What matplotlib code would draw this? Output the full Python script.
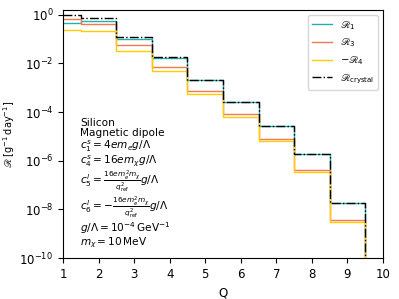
import numpy as np
import matplotlib.pyplot as plt
from matplotlib.ticker import NullLocator

Q = [1, 2, 3, 4, 5, 6, 7, 8, 9, 10]

# taux (la valeur a Q=10 est hors echelle)
R1 = [0.48, 0.55, 0.10, 0.0165, 0.0020, 2.6e-4, 2.7e-5, 1.85e-6, 1.75e-8, 0]
R3 = [0.68, 0.41, 0.055, 0.0070, 7.7e-4, 8.2e-5, 8.1e-6, 4.2e-7, 3.7e-9, 0]
mR4 = [0.24, 0.21, 0.034, 0.0051, 5.5e-4, 6.2e-5, 6.2e-6, 3.6e-7, 3.1e-9, 0]
Rcrystal = [0.97, 0.73, 0.12, 0.018, 0.0021, 2.7e-4, 2.8e-5, 1.9e-6, 1.8e-8, 0]

plt.rcParams['font.size'] = 9
plt.rcParams['mathtext.fontset'] = 'dejavusans'

fig = plt.figure(figsize=(3.99, 2.99), dpi=100)
ax = fig.add_axes([0.158, 0.137, 0.802, 0.83])

ax.step(Q, R1, where='mid', color='#20b2aa', lw=1.0, label=r'$\mathscr{R}_1$')
ax.step(Q, R3, where='mid', color='#f4794f', lw=1.0, label=r'$\mathscr{R}_3$')
ax.step(Q, mR4, where='mid', color='#ffcc00', lw=1.0, label=r'$-\mathscr{R}_4$')
ax.step(Q, Rcrystal, where='mid', color='black', lw=1.0, ls='-.',
        label=r'$\mathscr{R}_{\rm crystal}$')

ax.set_yscale('log')
ax.set_xlim(1, 10)
ax.set_ylim(1e-10, 1.6)
ax.yaxis.set_minor_locator(NullLocator())
ax.tick_params(labelsize=8.5)
ax.set_xlabel('Q', fontsize=8.5)
ax.set_ylabel(r'$\mathscr{R}\;[\mathrm{g^{-1}\,day^{-1}}]$', fontsize=7, labelpad=2)

texte = '\n'.join([
    'Silicon',
    'Magnetic dipole',
    r'$c_1^s = 4em_e g/\Lambda$',
    r'$c_4^s = 16em_\chi g/\Lambda$',
    r'$c_5^l = \frac{16em_e^2m_\chi}{q_{\rm ref}^2} g/\Lambda$',
    r'$c_6^l = -\frac{16em_e^2m_\chi}{q_{\rm ref}^2} g/\Lambda$',
    r'$g/\Lambda = 10^{-4}\,\mathrm{GeV}^{-1}$',
    r'$m_\chi = 10\,\mathrm{MeV}$',
])
ax.text(1.48, 2.1e-10, texte, va='bottom', ha='left', fontsize=7.6,
        linespacing=1.0)

ax.legend(loc='upper right', fontsize=7.2)

fig.savefig('out.png', dpi=100)
